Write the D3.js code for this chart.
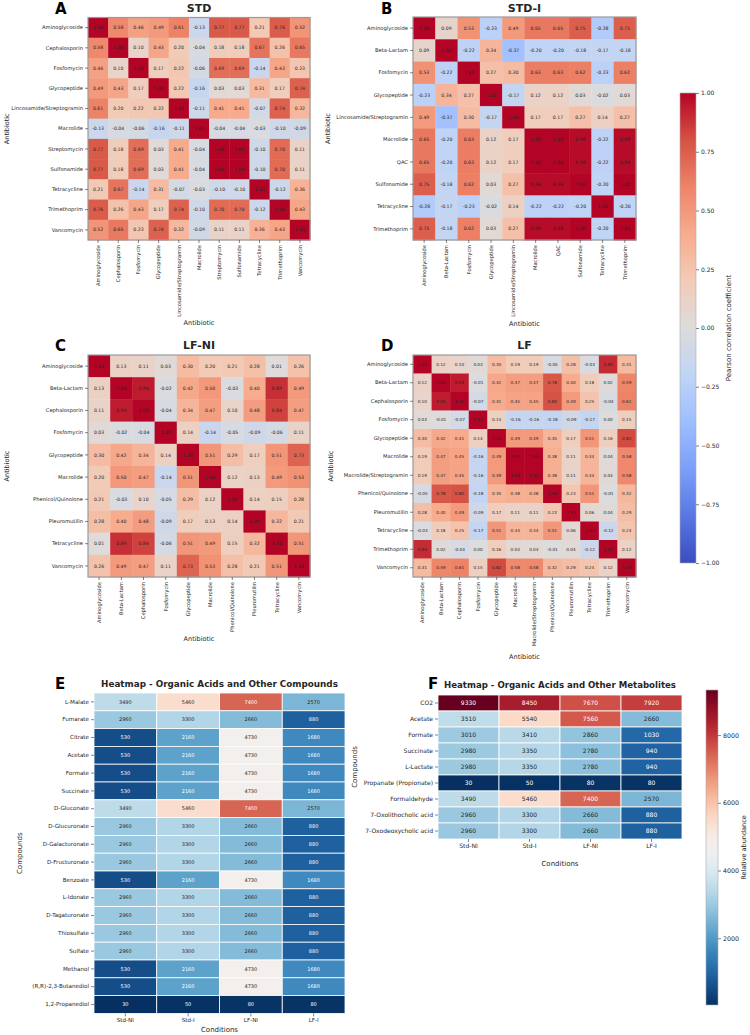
<!DOCTYPE html>
<html>
  <head>
    <style>
      body { margin: 0; background: #fff; }
      svg text { font-family: 'DejaVu Sans', sans-serif; fill: #262626; }
    </style>
  </head>

  <body>

    <svg class="surface" width="750" height="1035"></svg>

    <script src="https://d3js.org/d3.v7.min.js" charset="utf-8"></script>
    <script>

      // ---- correlation panels ----
      const stdLabels = ['Aminoglycoside', 'Cephalosporin', 'Fosfomycin', 'Glycopeptide', 'Lincosamide/Streptogramin',
        'Macrolide', 'Streptomycin', 'Sulfonamide', 'Tetracycline', 'Trimethoprim', 'Vancomycin']
      const stdValues = [
        [1.00, 0.58, 0.46, 0.49, 0.61, -0.13, 0.77, 0.77, 0.21, 0.76, 0.52],
        [0.58, 1.00, 0.10, 0.43, 0.20, -0.04, 0.18, 0.18, 0.67, 0.26, 0.65],
        [0.46, 0.10, 1.00, 0.17, 0.22, -0.06, 0.69, 0.69, -0.14, 0.43, 0.23],
        [0.49, 0.43, 0.17, 1.00, 0.22, -0.16, 0.03, 0.03, 0.31, 0.17, 0.74],
        [0.61, 0.20, 0.22, 0.22, 1.00, -0.11, 0.41, 0.41, -0.07, 0.74, 0.32],
        [-0.13, -0.04, -0.06, -0.16, -0.11, 1.00, -0.04, -0.04, -0.03, -0.10, -0.09],
        [0.77, 0.18, 0.69, 0.03, 0.41, -0.04, 1.00, 1.00, -0.10, 0.70, 0.11],
        [0.77, 0.18, 0.69, 0.03, 0.41, -0.04, 1.00, 1.00, -0.10, 0.70, 0.11],
        [0.21, 0.67, -0.14, 0.31, -0.07, -0.03, -0.10, -0.10, 1.00, -0.12, 0.36],
        [0.76, 0.26, 0.43, 0.17, 0.74, -0.10, 0.70, 0.70, -0.12, 1.00, 0.43],
        [0.52, 0.65, 0.23, 0.74, 0.32, -0.09, 0.11, 0.11, 0.36, 0.43, 1.00]
      ]

      const stdiLabels = ['Aminoglycoside', 'Beta-Lactam', 'Fosfomycin', 'Glycopeptide', 'Lincosamide/Streptogramin',
        'Macrolide', 'QAC', 'Sulfonamide', 'Tetracycline', 'Trimethoprim']
      const stdiValues = [
        [1.00, 0.09, 0.53, -0.23, 0.49, 0.65, 0.65, 0.75, -0.28, 0.75],
        [0.09, 1.00, -0.22, 0.34, -0.37, -0.20, -0.20, -0.18, -0.17, -0.18],
        [0.53, -0.22, 1.00, 0.27, 0.30, 0.63, 0.63, 0.62, -0.23, 0.62],
        [-0.23, 0.34, 0.27, 1.00, -0.17, 0.12, 0.12, 0.03, -0.02, 0.03],
        [0.49, -0.37, 0.30, -0.17, 1.00, 0.17, 0.17, 0.27, 0.14, 0.27],
        [0.65, -0.20, 0.63, 0.12, 0.17, 1.00, 1.00, 0.98, -0.22, 0.98],
        [0.65, -0.20, 0.63, 0.12, 0.17, 1.00, 1.00, 0.98, -0.22, 0.98],
        [0.75, -0.18, 0.62, 0.03, 0.27, 0.98, 0.98, 1.00, -0.20, 1.00],
        [-0.28, -0.17, -0.23, -0.02, 0.14, -0.22, -0.22, -0.20, 1.00, -0.20],
        [0.75, -0.18, 0.62, 0.03, 0.27, 0.98, 0.98, 1.00, -0.20, 1.00]
      ]

      const lfniLabels = ['Aminoglycoside', 'Beta-Lactam', 'Cephalosporin', 'Fosfomycin', 'Glycopeptide',
        'Macrolide', 'Phenicol/Quinolone', 'Pleuromutilin', 'Tetracycline', 'Vancomycin']
      const lfniValues = [
        [1.00, 0.13, 0.11, 0.03, 0.30, 0.20, 0.21, 0.28, 0.01, 0.26],
        [0.13, 1.00, 0.94, -0.02, 0.42, 0.50, -0.03, 0.40, 0.89, 0.49],
        [0.11, 0.94, 1.00, -0.04, 0.34, 0.47, 0.10, 0.48, 0.84, 0.47],
        [0.03, -0.02, -0.04, 1.00, 0.14, -0.14, -0.05, -0.09, -0.06, 0.11],
        [0.30, 0.42, 0.34, 0.14, 1.00, 0.51, 0.29, 0.17, 0.51, 0.73],
        [0.20, 0.50, 0.47, -0.14, 0.51, 1.00, 0.12, 0.13, 0.49, 0.53],
        [0.21, -0.03, 0.10, -0.05, 0.29, 0.12, 1.00, 0.14, 0.15, 0.28],
        [0.28, 0.40, 0.48, -0.09, 0.17, 0.13, 0.14, 1.00, 0.32, 0.21],
        [0.01, 0.89, 0.84, -0.06, 0.51, 0.49, 0.15, 0.32, 1.00, 0.51],
        [0.26, 0.49, 0.47, 0.11, 0.73, 0.53, 0.28, 0.21, 0.51, 1.00]
      ]

      const lfLabels = ['Aminoglycoside', 'Beta-Lactam', 'Cephalosporin', 'Fosfomycin', 'Glycopeptide', 'Macrolide',
        'Macrolide/Streptogramin', 'Phenicol/Quinolone', 'Pleuromutilin', 'Tetracycline', 'Trimethoprim', 'Vancomycin']
      const lfValues = [
        [1.00, 0.12, 0.10, 0.03, 0.30, 0.19, 0.19, -0.05, 0.28, -0.03, 0.90, 0.31],
        [0.12, 1.00, 0.94, -0.01, 0.42, 0.47, 0.47, 0.78, 0.40, 0.18, 0.02, 0.59],
        [0.10, 0.94, 1.00, -0.07, 0.41, 0.45, 0.45, 0.80, 0.49, 0.25, -0.04, 0.61],
        [0.03, -0.01, -0.07, 1.00, 0.14, -0.16, -0.16, -0.18, -0.09, -0.17, 0.00, 0.15],
        [0.30, 0.42, 0.41, 0.14, 1.00, 0.49, 0.49, 0.35, 0.17, 0.51, 0.16, 0.82],
        [0.19, 0.47, 0.45, -0.16, 0.49, 1.00, 1.00, 0.38, 0.11, 0.34, 0.04, 0.58],
        [0.19, 0.47, 0.45, -0.16, 0.49, 1.00, 1.00, 0.38, 0.11, 0.34, 0.04, 0.58],
        [-0.05, 0.78, 0.80, -0.18, 0.35, 0.38, 0.38, 1.00, 0.23, 0.51, -0.01, 0.32],
        [0.28, 0.40, 0.49, -0.09, 0.17, 0.11, 0.11, 0.23, 1.00, 0.06, 0.04, 0.29],
        [-0.03, 0.18, 0.25, -0.17, 0.51, 0.34, 0.34, 0.51, 0.06, 1.00, -0.12, 0.24],
        [0.90, 0.02, -0.04, 0.00, 0.16, 0.04, 0.04, -0.01, 0.04, -0.12, 1.00, 0.12],
        [0.31, 0.59, 0.61, 0.15, 0.82, 0.58, 0.58, 0.32, 0.29, 0.24, 0.12, 1.00]
      ]
      const pearsonTicks = [-1, -0.75, -0.5, -0.25, 0, 0.25, 0.5, 0.75, 1]

      // ---- abundance panels ----
      const conditions = ['Std-NI', 'Std-I', 'LF-NI', 'LF-I']
      const compoundsE = ['L-Malate', 'Fumarate', 'Citrate', 'Acetate', 'Formate', 'Succinate', 'D-Gluconate',
        'D-Glucuronate', 'D-Galacturonate', 'D-Fructuronate', 'Benzoate', 'L-Idonate', 'D-Tagaturonate',
        'Thiosulfate', 'Sulfate', 'Methanol', '(R,R)-2,3-Butanediol', '1,2-Propanediol']
      const abundanceE = [
        [3490, 5460, 7400, 2570],
        [2960, 3300, 2660, 880],
        [530, 2160, 4730, 1680],
        [530, 2160, 4730, 1680],
        [530, 2160, 4730, 1680],
        [530, 2160, 4730, 1680],
        [3490, 5460, 7400, 2570],
        [2960, 3300, 2660, 880],
        [2960, 3300, 2660, 880],
        [2960, 3300, 2660, 880],
        [530, 2160, 4730, 1680],
        [2960, 3300, 2660, 880],
        [2960, 3300, 2660, 880],
        [2960, 3300, 2660, 880],
        [2960, 3300, 2660, 880],
        [530, 2160, 4730, 1680],
        [530, 2160, 4730, 1680],
        [30, 50, 80, 80]
      ]
      const metabolitesF = ['CO2', 'Acetate', 'Formate', 'Succinate', 'L-Lactate', 'Propanate (Propionate)',
        'Formaldehyde', '7-Oxolithocholic acid', '7-Oxodeoxycholic acid']
      const abundanceF = [
        [9330, 8450, 7670, 7920],
        [3510, 5540, 7560, 2660],
        [3010, 3410, 2860, 1030],
        [2980, 3350, 2780, 940],
        [2980, 3350, 2780, 940],
        [30, 50, 80, 80],
        [3490, 5460, 7400, 2570],
        [2960, 3300, 2660, 880],
        [2960, 3300, 2660, 880]
      ]
      const abundanceTicks = [2000, 4000, 6000, 8000]

      const surface = d3.select('.surface')

      // matplotlib coolwarm, sampled
      const coolwarm = ['#3b4cc0', '#5977e3', '#7b9ff9', '#9ebeff', '#c0d4f5', '#dddcdc',
        '#f2cbb7', '#f7ac8e', '#ee8468', '#d65244', '#b40426']
      const corrColor = d3.scaleLinear()
        .domain(d3.range(11).map(i => -1 + i * 0.2))
        .range(coolwarm)
      const abundColor = d3.scaleSequential(t => d3.interpolateRdBu(1 - t)).domain([30, 9330])

      function lum(c) {
        const rgb = d3.rgb(c)
        const f = v => { v /= 255; return v <= 0.03928 ? v / 12.92 : Math.pow((v + 0.055) / 1.055, 2.4) }
        return 0.2126 * f(rgb.r) + 0.7152 * f(rgb.g) + 0.0722 * f(rgb.b)
      }

      function heatmap(o) {
        const g = surface.append('g')
        const x = d3.scaleBand().domain(o.cols).range([o.left, o.left + o.width])
        const y = d3.scaleBand().domain(o.rows).range([o.top, o.top + o.height])
        const cells = o.values.flatMap((row, i) => row.map((v, j) => ({ r: o.rows[i], c: o.cols[j], v })))

        g.selectAll('rect.cell').data(cells).enter()
          .append('rect')
          .attr('class', 'cell')
          .attr('x', d => x(d.c))
          .attr('y', d => y(d.r))
          .attr('width', x.bandwidth() + (o.grid ? 0 : 0.4))
          .attr('height', y.bandwidth() + (o.grid ? 0 : 0.4))
          .attr('fill', d => o.color(d.v))
          .attr('stroke', o.grid ? '#fff' : 'none')
          .attr('stroke-width', o.grid ? 0.8 : 0)

        g.selectAll('text.val').data(cells).enter()
          .append('text')
          .attr('class', 'val')
          .attr('x', d => x(d.c) + x.bandwidth() / 2)
          .attr('y', d => y(d.r) + y.bandwidth() / 2)
          .attr('dy', '0.35em')
          .attr('text-anchor', 'middle')
          .style('font-size', o.cellFont + 'px')
          .style('fill', d => o.auto ? (lum(o.color(d.v)) > 0.408 ? '#262626' : '#fff') : '#262626')
          .text(d => o.fmt(d.v))

        if (o.frame) {
          g.append('rect')
            .attr('x', o.left).attr('y', o.top)
            .attr('width', o.width).attr('height', o.height)
            .attr('fill', 'none').attr('stroke', '#9a9a9a').attr('stroke-width', 1.2)
        }

        const ya = g.append('g').attr('transform', `translate(${o.left},0)`)
          .call(d3.axisLeft(y).tickSize(3).tickPadding(2))
        const xa = g.append('g').attr('transform', `translate(0,${o.top + o.height})`)
          .call(d3.axisBottom(x).tickSize(3).tickPadding(2))
        ;[ya, xa].forEach(a => {
          a.select('.domain').remove()
          a.selectAll('line').attr('stroke', '#333').attr('stroke-width', 0.6)
          a.selectAll('text').style('font-size', o.labelFont + 'px').style('fill', '#262626')
        })
        if (o.rotate) {
          xa.selectAll('text')
            .attr('transform', 'rotate(-90)')
            .attr('text-anchor', 'end')
            .attr('x', -5).attr('y', 0).attr('dy', '0.35em')
        }

        // titles
        g.append('text').attr('x', o.left + o.width / 2).attr('y', o.titleY)
          .attr('text-anchor', 'middle').style('font-size', o.titleFont + 'px').style('font-weight', 'bold')
          .text(o.title)
        g.append('text').attr('x', o.letterX).attr('y', o.letterY)
          .style('font-size', o.letterFont + 'px').style('font-weight', 'bold').style('fill', '#000')
          .text(o.letter)
        g.append('text').attr('x', o.left + o.width / 2).attr('y', o.xTitleY)
          .attr('text-anchor', 'middle').style('font-size', o.axisFont + 'px')
          .text(o.xTitle)
        g.append('text')
          .attr('transform', `translate(${o.yTitleX},${o.top + o.height / 2}) rotate(-90)`)
          .attr('text-anchor', 'middle').style('font-size', o.axisFont + 'px')
          .text(o.yTitle)
      }

      const corrCommon = {
        color: corrColor, fmt: d => d.toFixed(2), frame: true, rotate: true,
        labelFont: 5.2, titleFont: 11, letterFont: 15, axisFont: 6.5,
        xTitle: 'Antibiotic', yTitle: 'Antibiotic'
      }

      heatmap(Object.assign({}, corrCommon, {
        rows: stdLabels, cols: stdLabels, values: stdValues,
        left: 88, top: 17.5, width: 222, height: 222.5, cellFont: 4.6,
        title: 'STD', titleY: 12, letter: 'A', letterX: 55, letterY: 14,
        xTitleY: 325, yTitleX: 9
      }))
      heatmap(Object.assign({}, corrCommon, {
        rows: stdiLabels, cols: stdiLabels, values: stdiValues,
        left: 413, top: 17, width: 223, height: 223, cellFont: 4.6,
        title: 'STD-I', titleY: 12, letter: 'B', letterX: 381, letterY: 14,
        xTitleY: 326, yTitleX: 330
      }))
      heatmap(Object.assign({}, corrCommon, {
        rows: lfniLabels, cols: lfniLabels, values: lfniValues,
        left: 88, top: 355, width: 222, height: 222, cellFont: 4.6,
        title: 'LF-NI', titleY: 349, letter: 'C', letterX: 55, letterY: 351,
        xTitleY: 641, yTitleX: 9
      }))
      heatmap(Object.assign({}, corrCommon, {
        rows: lfLabels, cols: lfLabels, values: lfValues,
        left: 413, top: 355, width: 223, height: 222, cellFont: 4.2,
        title: 'LF', titleY: 349, letter: 'D', letterX: 381, letterY: 351,
        xTitleY: 659, yTitleX: 333
      }))

      heatmap({
        rows: compoundsE, cols: conditions, values: abundanceE,
        color: abundColor, fmt: d => String(d), grid: true, auto: true,
        left: 94, top: 693, width: 251, height: 320.4, cellFont: 5, labelFont: 5.6,
        titleFont: 8.8, letterFont: 15, axisFont: 7,
        title: 'Heatmap - Organic Acids and Other Compounds', titleY: 687,
        letter: 'E', letterX: 55, letterY: 689,
        xTitle: 'Conditions', xTitleY: 1032, yTitle: 'Compounds', yTitleX: 22
      })
      heatmap({
        rows: metabolitesF, cols: conditions, values: abundanceF,
        color: abundColor, fmt: d => String(d), grid: true, auto: true,
        left: 438, top: 695, width: 244, height: 144, cellFont: 6, labelFont: 6,
        titleFont: 8.6, letterFont: 15, axisFont: 7,
        title: 'Heatmap - Organic Acids and Other Metabolites', titleY: 688,
        letter: 'F', letterX: 428, letterY: 689,
        xTitle: 'Conditions', xTitleY: 866, yTitle: 'Compounds', yTitleX: 357
      })

      // ---- colorbars ----
      function colorbar(o) {
        const id = 'grad-' + o.id
        const grad = surface.append('defs').append('linearGradient')
          .attr('id', id).attr('x1', 0).attr('y1', 1).attr('x2', 0).attr('y2', 0)
        const [d0, d1] = o.scale.domain()
        grad.selectAll('stop').data(d3.range(0, 1.0001, 0.02)).enter()
          .append('stop')
          .attr('offset', t => t)
          .attr('stop-color', t => o.color(d0 + t * (d1 - d0)))
        const [y0, y1] = o.scale.range()
        surface.append('rect')
          .attr('x', o.x).attr('y', y1).attr('width', o.w).attr('height', y0 - y1)
          .attr('fill', `url(#${id})`).attr('stroke', '#aaa').attr('stroke-width', 0.6)
        const ax = surface.append('g').attr('transform', `translate(${o.x + o.w},0)`)
          .call(d3.axisRight(o.scale).tickValues(o.ticks).tickSize(3).tickPadding(2).tickFormat(o.fmt))
        ax.select('.domain').remove()
        ax.selectAll('line').attr('stroke', '#333').attr('stroke-width', 0.6)
        ax.selectAll('text').style('font-size', o.font + 'px').style('fill', '#262626')
        surface.append('text')
          .attr('transform', `translate(${o.labelX},${(y0 + y1) / 2}) rotate(-90)`)
          .attr('text-anchor', 'middle').style('font-size', o.labelFont + 'px')
          .text(o.label)
      }

      colorbar({
        id: 'pearson', scale: d3.scaleLinear().domain([-1, 1]).range([563, 93]), color: corrColor,
        x: 680, w: 16, ticks: pearsonTicks, fmt: d3.format('.2f'), font: 6,
        label: 'Pearson correlation coefficient', labelX: 731, labelFont: 7
      })
      colorbar({
        id: 'abund', scale: d3.scaleLinear().domain([30, 9330]).range([1005, 690]), color: abundColor,
        x: 706, w: 12, ticks: abundanceTicks, fmt: d3.format('d'), font: 6.3,
        label: 'Relative abundance', labelX: 746, labelFont: 6.5
      })

    </script>
  </body>

</html>
